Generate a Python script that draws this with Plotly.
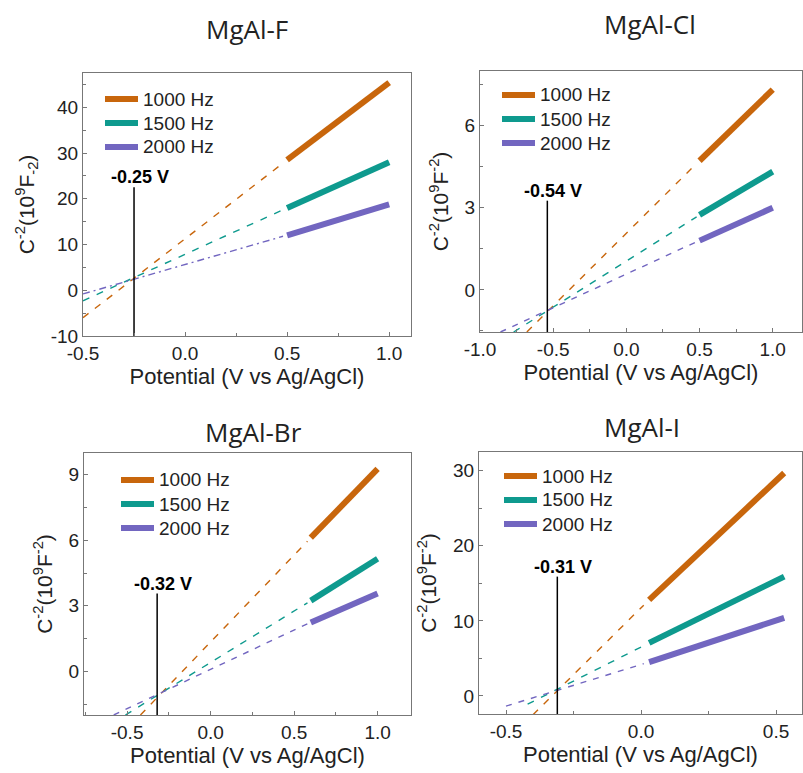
import plotly.graph_objects as go

W, H = 803, 773

panels = ["MgAl-F", "MgAl-Cl", "MgAl-Br", "MgAl-I"]
freqs = ["1000 Hz", "1500 Hz", "2000 Hz"]
colors = ["#C8660C", "#0E9A8E", "#7266C0"]

# measured (thick) segments
F_x = [0.5, 0.6, 0.7, 0.8, 0.9, 1.0]
F_y1000 = [28.5, 31.9, 35.3, 38.6, 42.0, 45.4]
F_y1500 = [18.0, 20.0, 22.0, 24.0, 26.0, 28.0]
F_y2000 = [12.0, 13.4, 14.7, 16.1, 17.4, 18.8]
Cl_x = [0.5, 0.6, 0.7, 0.8, 0.9, 1.0]
Cl_y1000 = [4.72, 5.24, 5.76, 6.28, 6.80, 7.32]
Cl_y1500 = [2.74, 3.06, 3.38, 3.70, 4.01, 4.32]
Cl_y2000 = [1.80, 2.04, 2.28, 2.52, 2.76, 3.00]
Br_x = [0.6, 0.7, 0.8, 0.9, 1.0]
Br_y1000 = [6.12, 6.91, 7.70, 8.49, 9.27]
Br_y1500 = [3.24, 3.72, 4.20, 4.68, 5.16]
Br_y2000 = [2.24, 2.57, 2.90, 3.23, 3.56]
I_x = [0.03, 0.13, 0.23, 0.33, 0.43, 0.53]
I_y1000 = [12.8, 16.2, 19.6, 23.0, 26.4, 29.7]
I_y1500 = [7.07, 8.8, 10.6, 12.4, 14.1, 15.9]
I_y2000 = [4.5, 5.7, 6.9, 8.1, 9.2, 10.4]

# linear fit extrapolations (dashed): [x_start, x_end], [y_start, y_end]
F_fit_x = [[-0.5, 0.48], [-0.5, 0.48], [-0.5, 0.48]]
F_fit_y = [[-6.0, 27.8], [-2.3, 17.6], [-0.8, 11.8]]
Cl_fit_x = [[-0.68, 0.48], [-0.77, 0.48], [-0.86, 0.48]]
Cl_fit_y = [[-1.54, 4.62], [-1.54, 2.67], [-1.54, 1.76]]
Br_fit_x = [[-0.42, 0.58], [-0.51, 0.58], [-0.58, 0.58]]
Br_fit_y = [[-2.0, 5.96], [-2.0, 3.14], [-2.0, 2.18]]
I_fit_x = [[-0.4, 0.01], [-0.42, 0.01], [-0.5, 0.01]]
I_fit_y = [[-2.5, 12.1], [-1.1, 6.7], [-1.35, 4.3]]

# flat-band potentials (vertical marker) and marker tops
vfb = [-0.25, -0.54, -0.32, -0.31]
vfb_labels = ["-0.25 V", "-0.54 V", "-0.32 V", "-0.31 V"]
vfb_top = [22.5, 3.26, 3.56, 15.9]

x_ranges = [[-0.5, 1.107], [-1.0, 1.2], [-0.758, 1.2], [-0.6, 0.596]]
y_ranges = [[-10, 47.5], [-1.54, 8.0], [-2.0, 10.0], [-2.4, 32.5]]
x_ticks = [[-0.5, 0.0, 0.5, 1.0], [-1.0, -0.5, 0.0, 0.5, 1.0], [-0.5, 0.0, 0.5, 1.0], [-0.5, 0.0, 0.5]]
y_ticks = [[-10, 0, 10, 20, 30, 40], [0, 3, 6], [0, 3, 6, 9], [0, 10, 20, 30]]
y_minor = [5, 1.5, 1.5, 5]
y_titles = ["C<sup>-2</sup>(10<sup>9</sup>F<sub>-2</sub>)",
            "C<sup>-2</sup>(10<sup>9</sup>F<sup>-2</sup>)",
            "C<sup>-2</sup>(10<sup>9</sup>F<sup>-2</sup>)",
            "C<sup>-2</sup>(10<sup>9</sup>F<sup>-2</sup>)"]
x_title = "Potential (V vs Ag/AgCl)"

data_x = [F_x, Cl_x, Br_x, I_x]
data_y = [[F_y1000, F_y1500, F_y2000], [Cl_y1000, Cl_y1500, Cl_y2000],
          [Br_y1000, Br_y1500, Br_y2000], [I_y1000, I_y1500, I_y2000]]
fit_x = [F_fit_x, Cl_fit_x, Br_fit_x, I_fit_x]
fit_y = [F_fit_y, Cl_fit_y, Br_fit_y, I_fit_y]

# layout geometry (pixels)
px_boxes = [(83, 411, 73, 336), (480, 802, 71, 332), (84, 411, 453, 715), (479, 802, 452, 714)]
title_pos = [(247, 29), (650, 24), (253, 432), (642, 427)]
legend_pos = [(105, 99), (502, 95), (121, 480), (504, 476)]  # line start x, first row y
LEG_STEP = 24
LEG_LEN = 33

fig = go.Figure()
layout = dict(width=W, height=H, margin=dict(l=0, r=0, t=0, b=0, autoexpand=False),
              plot_bgcolor="white", paper_bgcolor="white", showlegend=False,
              font=dict(family="Liberation Sans, Arial", color="#222"))
annotations = []
shapes = []
TICKF = dict(family="Liberation Sans, Arial", size=19, color="#222")

for i in range(4):
    ax = "" if i == 0 else str(i + 1)
    xa, ya = "x" + ax, "y" + ax
    dash = ["7px,8px", "7px,8px", "7px,4px,2px,4px" if i == 0 else "6px,7px"]
    for k in range(3):
        fig.add_trace(go.Scatter(x=fit_x[i][k], y=fit_y[i][k], mode="lines", xaxis=xa, yaxis=ya,
                                 line=dict(color=colors[k], width=1.4, dash=dash[k]),
                                 showlegend=False, hoverinfo="skip"))
    for k in range(3):
        fig.add_trace(go.Scatter(x=data_x[i], y=data_y[i][k], mode="lines", xaxis=xa, yaxis=ya,
                                 name=freqs[k], line=dict(color=colors[k], width=6)))
    fig.add_trace(go.Scatter(x=[vfb[i], vfb[i]], y=[y_ranges[i][0], vfb_top[i]], mode="lines",
                             xaxis=xa, yaxis=ya, line=dict(color="black", width=1.5),
                             showlegend=False, hoverinfo="skip"))
    l, r, t, b = px_boxes[i]
    layout["xaxis" + ax] = dict(domain=[l / W, r / W], range=x_ranges[i], anchor=ya, automargin=False,
                                tickvals=x_ticks[i], ticktext=[f"{v:.1f}" for v in x_ticks[i]],
                                ticks="inside", ticklen=4, tickcolor="#777",
                                minor=dict(dtick=0.25, tick0=0, ticks="inside", ticklen=3, tickcolor="#777"),
                                showline=True, linecolor="#777", linewidth=1.2, mirror=True,
                                showgrid=False, zeroline=False, tickfont=TICKF,
                                title=dict(text=x_title, font=dict(size=22, color="#222"), standoff=3))
    layout["yaxis" + ax] = dict(domain=[1 - b / H, 1 - t / H], range=y_ranges[i], anchor=xa, automargin=False,
                                tickvals=y_ticks[i], ticktext=[str(v) for v in y_ticks[i]],
                                ticks="inside", ticklen=4, tickcolor="#777",
                                minor=dict(dtick=y_minor[i], tick0=0, ticks="inside", ticklen=3, tickcolor="#777"),
                                showline=True, linecolor="#777", linewidth=1.2, mirror=True,
                                showgrid=False, zeroline=False, tickfont=TICKF,
                                title=dict(text=y_titles[i], font=dict(size=21, color="#222"), standoff=10))
    # legend (drawn manually for exact spacing)
    lx, ly = legend_pos[i]
    for k in range(3):
        yy = 1 - (ly + LEG_STEP * k) / H
        shapes.append(dict(type="line", xref="paper", yref="paper", x0=lx / W, x1=(lx + LEG_LEN) / W,
                           y0=yy, y1=yy, line=dict(color=colors[k], width=6)))
        annotations.append(dict(text=freqs[k], x=(lx + LEG_LEN + 3) / W, y=yy, xref="paper", yref="paper",
                                showarrow=False, xanchor="left", yanchor="middle",
                                font=dict(family="Liberation Sans, Arial", size=19, color="#222")))
    tx, ty = title_pos[i]
    annotations.append(dict(text=panels[i], x=tx / W, y=1 - ty / H, xref="paper", yref="paper",
                            showarrow=False, xanchor="center", yanchor="middle",
                            font=dict(family="Open Sans, Noto Sans", size=26, color="#222")))
    annotations.append(dict(text="<b>" + vfb_labels[i] + "</b>", x=vfb[i], y=vfb_top[i],
                            xref=xa, yref=ya, showarrow=False, xanchor="center", yanchor="bottom",
                            xshift=6, yshift=-2,
                            font=dict(family="Liberation Sans, Arial", size=18, color="black")))

layout["annotations"] = annotations
layout["shapes"] = shapes
fig.update_layout(**layout)
fig.write_html("out.html")
